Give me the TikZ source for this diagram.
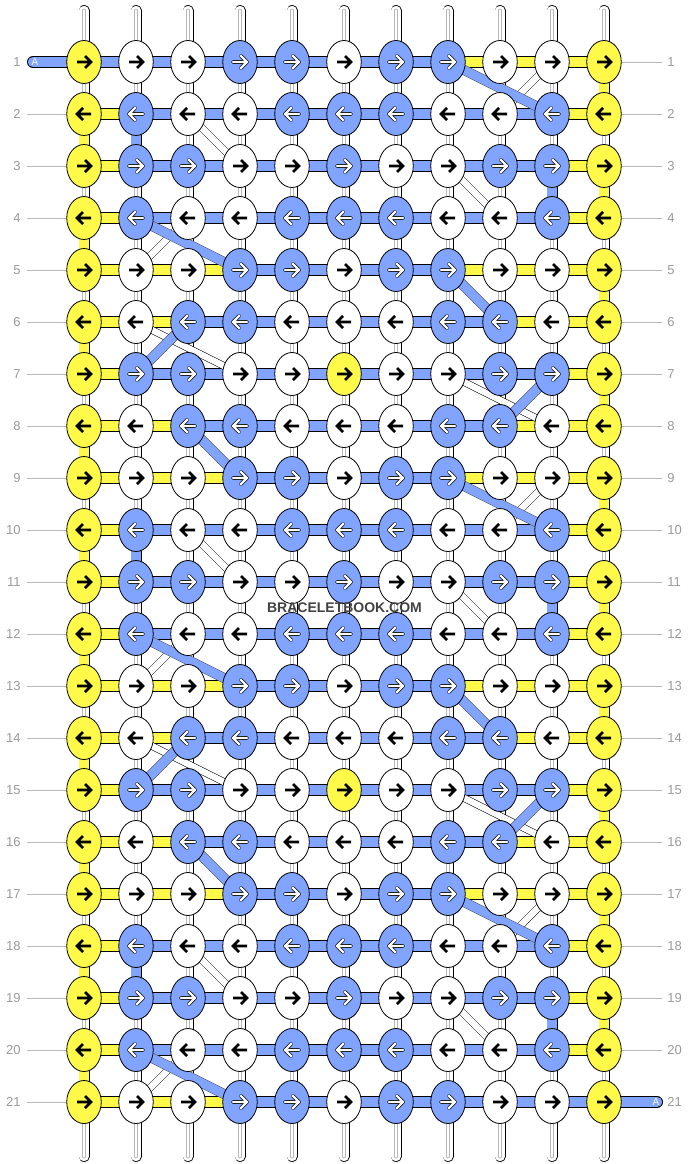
\documentclass[tikz,border=0pt]{standalone}
\usepackage{fontspec}
\setmainfont{Liberation Sans}
\usetikzlibrary{positioning,shapes.geometric}
\pgfdeclarelayer{bg}
\pgfsetlayers{bg,main}

\definecolor{knY}{HTML}{FFFA4A}
\definecolor{knB}{HTML}{80A4FF}
\definecolor{knW}{HTML}{FFFFFF}
\definecolor{numgray}{HTML}{9A9A9A}
\definecolor{markgray}{HTML}{424242}

% knot colours, one list per kind of row
\def\knotsA{Y,W,W,B,B,W,B,B,W,W,Y}
\def\knotsB{Y,B,W,W,B,B,B,W,W,B,Y}
\def\knotsC{Y,B,B,W,W,B,W,W,B,B,Y}
\def\knotsD{Y,W,B,B,W,W,W,B,B,W,Y}
\def\knotsE{Y,B,B,W,W,Y,W,W,B,B,Y}
% thread colours between the knots of a row
\def\linksA{B,B,B,B,B,B,B,Y,Y,Y}
\def\linksB{Y,B,B,B,B,B,B,B,B,Y}
\def\linksC{Y,Y,Y,B,B,B,B,Y,Y,Y}
\def\linksD{Y,Y,B,B,B,B,B,B,Y,Y}
\def\linksE{Y,Y,Y,B,B,B,B,B,B,B}

\tikzset{
  knot/.style={ellipse, draw, line width=0.8pt, fill=kn#1, minimum width=34.5pt, minimum height=43pt, inner sep=0pt},
  knarrow/.is choice,
  knarrow/Y/.style={draw=black, line width=2.6pt},
  knarrow/W/.style={draw=black, line width=2.6pt},
  knarrow/B/.style={draw=black, double=white, line width=0.8pt, double distance=2.2pt, line cap=round, line join=round},
  warp/.style={draw=black, line width=0.8pt, double=white, double distance=9.4pt, line cap=round},
  warpline/.style={draw=black!28, line width=0.6pt, double=white, double distance=2.4pt, line cap=round},
  vseg/.style={draw=black, line width=0.8pt, double=kn#1, double distance=9.4pt},
  hseg/.style={draw=black, line width=0.8pt, double=kn#1, double distance=10.4pt},
  wdiag/.style={draw=black, line width=0.5pt, double=white, double distance=6.4pt},
  bdiag/.style={draw=black!75, line width=0.5pt, double=knB, double distance=9pt},
  num/.style={text=numgray, font=\fontsize{13}{15}\selectfont, inner sep=3pt},
  rowline/.style={draw=black!28, line width=0.7pt},
  tag/.style={text=white, font=\fontsize{10}{12}\selectfont, inner sep=0pt},
}

\begin{document}
\begin{tikzpicture}[x=1pt, y=-1pt]
  \useasboundingbox (0,0) rectangle (688,1164);

  % knots
  \foreach \r/\kp in {1/A,2/B,3/C,4/B,5/A,6/D,7/E,8/D,9/A,10/B,11/C,12/B,13/A,14/D,15/E,16/D,17/A,18/B,19/C,20/B,21/A}{
    \edef\knl{\csname knots\kp\endcsname}
    \pgfmathtruncatemacro\dir{1-2*mod(\r+1,2)}
    \foreach \col [count=\c] in \knl {
      \node[knot=\col] (k\r-\c) at (32+52*\c, 10+52*\r) {};
      \draw[knarrow=\col, shift={(k\r-\c.center)}, xscale=\dir] (-7,0) -- (7,0) (1,-6) -- (7,0) -- (1,6);
    }
  }

  \begin{pgfonlayer}{bg}
    % strings
    \foreach \c in {1,...,11} {
      \coordinate (top\c) at (32+52*\c, 10.5);
      \coordinate (bot\c) at (32+52*\c, 1156.5);
      \draw[warp] (top\c) -- (bot\c);
      \draw[warpline] (top\c) -- (bot\c);
    }
    % coloured pieces of string
    \foreach \r [evaluate=\r as \s using int(\r+1)] in {1,3,...,19}
      \draw[vseg=Y] (k\r-11.center) -- (k\s-11.center);
    \foreach \r [evaluate=\r as \s using int(\r+1)] in {2,4,...,20}
      \draw[vseg=Y] (k\r-1.center) -- (k\s-1.center);
    \foreach \r/\s in {2/3,10/11,18/19}
      \draw[vseg=B] (k\r-2.center) -- (k\s-2.center);
    \foreach \r/\s in {3/4,11/12,19/20}
      \draw[vseg=B] (k\r-10.center) -- (k\s-10.center);

    % threads along the rows
    \foreach \r/\hp in {1/A,2/B,3/B,4/B,5/C,6/D,7/B,8/D,9/C,10/B,11/B,12/B,13/C,14/D,15/B,16/D,17/C,18/B,19/B,20/B,21/E}{
      \edef\lkl{\csname links\hp\endcsname}
      \foreach \col [count=\c] in \lkl {
        \pgfmathtruncatemacro\d{\c+1}
        \draw[hseg=\col] (k\r-\c.center) -- (k\r-\d.center);
      }
    }
    % thread A in and out
    \coordinate (ain) at (33,62);
    \coordinate (aout) at (657,1102);
    \draw[hseg=B, line cap=round] (ain) -- (k1-1.center);
    \draw[hseg=B, line cap=round] (k21-11.center) -- (aout);

    % skipped threads, white under blue
    \foreach \r/\a/\s/\b in {1/10/2/9, 9/10/10/9, 17/10/18/9,
        2/3/3/4, 10/3/11/4, 18/3/19/4,
        3/8/4/9, 11/8/12/9, 19/8/20/9,
        4/3/5/2, 12/3/13/2, 20/3/21/2,
        6/2/7/4, 14/2/15/4,
        7/8/8/10, 15/8/16/10}
      \draw[wdiag] (k\r-\a.center) -- (k\s-\b.center);
    \foreach \r/\a/\s/\b in {1/8/2/10, 9/8/10/10, 17/8/18/10,
        4/2/5/4, 12/2/13/4, 20/2/21/4,
        5/8/6/9, 13/8/14/9,
        6/3/7/2, 14/3/15/2,
        7/10/8/9, 15/10/16/9,
        8/3/9/4, 16/3/17/4}
      \draw[bdiag] (k\r-\a.center) -- (k\s-\b.center);
  \end{pgfonlayer}

  % row numbers
  \foreach \r in {1,...,21} {
    \node[num, left=42.5pt of k\r-1, anchor=east] (nl\r) {\r};
    \node[num, right=42.5pt of k\r-11, anchor=west] (nr\r) {\r};
    \ifnum\r>1 \draw[rowline, shorten <=3pt] (nl\r) -- (k\r-1); \fi
    \ifnum\r<21 \draw[rowline, shorten >=2pt] (k\r-11) -- (nr\r); \fi
  }
  \node[tag] (tagin) at (35,62) {A};
  \node[tag] (tagout) at (656,1102) {A};

  \node[font=\bfseries\fontsize{14}{16}\selectfont, text=markgray] (mark) at (344.5,607.5) {BRACELETBOOK.COM};
\end{tikzpicture}
\end{document}
